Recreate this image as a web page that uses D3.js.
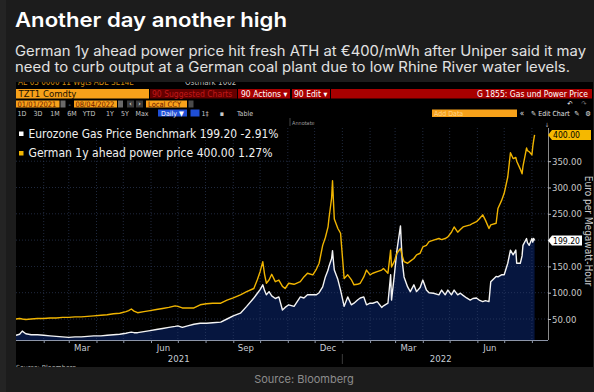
<!DOCTYPE html>
<html><head><meta charset="utf-8">
<script src="https://cdn.jsdelivr.net/npm/d3@7"></script>
<style>
html,body{margin:0;padding:0;background:#1c1c1c;}
svg{display:block;}
</style></head>
<body>
<svg id="chart" width="594" height="392"></svg>
<script>
// ---------- DATA ----------
const title = "Another day another high";
const subtitle = ["German 1y ahead power price hit fresh ATH at €400/mWh after Uniper said it may",
                  "need to curb output at a German coal plant due to low Rhine River water levels."];
const source = "Source: Bloomberg";
const seriesNames = ["Eurozone Gas Price Benchmark", "German 1y ahead power price"];
const seriesLast = ["199.20", "400.00"];
const seriesChange = ["-2.91%", "1.27%"];
const yTicks = [50, 100, 150, 200, 250, 300, 350];
const monthLabels = ["Mar", "Jun", "Sep", "Dec", "Mar", "Jun"];
const monthLabelDates = ["2021-03-16", "2021-06-15", "2021-09-15", "2021-12-16", "2022-03-16", "2022-06-15"];
const yearLabels = ["2021", "2022"];
const yearLabelDates = ["2021-07-02", "2022-04-21"];
const dates = [
"2021-01-01","2021-01-05","2021-01-08","2021-01-12","2021-01-18","2021-01-25","2021-02-01","2021-02-08","2021-02-15","2021-02-22",
"2021-03-01","2021-03-08","2021-03-15","2021-03-22","2021-03-29","2021-04-06","2021-04-13","2021-04-20","2021-04-27","2021-05-04",
"2021-05-07","2021-05-10","2021-05-13","2021-05-17","2021-05-24","2021-05-31","2021-06-07","2021-06-14","2021-06-21","2021-06-28",
"2021-07-01","2021-07-06","2021-07-12","2021-07-19","2021-07-26","2021-08-02","2021-08-09","2021-08-18","2021-08-25","2021-09-01",
"2021-09-09","2021-09-16","2021-09-24","2021-09-28","2021-10-01","2021-10-04","2021-10-06","2021-10-08","2021-10-11","2021-10-14",
"2021-10-18","2021-10-22","2021-10-26","2021-10-29","2021-11-02","2021-11-08","2021-11-15","2021-11-19","2021-11-23","2021-11-29",
"2021-12-03","2021-12-06","2021-12-10","2021-12-13","2021-12-16","2021-12-17","2021-12-20","2021-12-21","2021-12-22","2021-12-23",
"2021-12-27","2021-12-30","2022-01-03","2022-01-07","2022-01-11","2022-01-14","2022-01-18","2022-01-21","2022-01-25","2022-01-28",
"2022-02-01","2022-02-04","2022-02-09","2022-02-14","2022-02-16","2022-02-21","2022-02-24","2022-02-25","2022-02-28","2022-03-03",
"2022-03-07","2022-03-09","2022-03-11","2022-03-15","2022-03-18","2022-03-22","2022-03-25","2022-03-29","2022-04-01","2022-04-05",
"2022-04-08","2022-04-13","2022-04-19","2022-04-22","2022-04-26","2022-04-29","2022-05-03","2022-05-06","2022-05-10","2022-05-13",
"2022-05-16","2022-05-20","2022-05-24","2022-05-27","2022-05-31","2022-06-03","2022-06-07","2022-06-10","2022-06-14","2022-06-16",
"2022-06-22","2022-06-24","2022-06-28","2022-07-01","2022-07-05","2022-07-08","2022-07-11","2022-07-14","2022-07-15","2022-07-19",
"2022-07-21","2022-07-22","2022-07-26","2022-07-27","2022-07-29","2022-08-01","2022-08-02","2022-08-03","2022-08-04"];
const power = [
50,51,50,49,50,51,51,52,52,53,
53,54,54,55,56,57,58,60,61,64,
66,69,65,62,64,66,68,70,72,75,
74,71,71,71,77,79,80,80,86,90,
96,102,108,125,140,159,135,118,124,135,
121,124,112,108,118,116,121,130,137,134,
145,156,190,205,225,241,280,313,275,240,
222,213,127,134,125,115,116,118,130,143,
134,137,140,143,146,137,181,149,159,175,
184,170,159,156,160,165,172,175,187,190,
197,200,203,201,203,206,215,225,215,220,
225,227,229,232,235,240,248,238,222,229,
232,260,275,289,320,366,355,357,350,335,
326,340,375,370,368,362,378,390,400];
const gas = [
19,21,27,22,20,20,19,18,17,16,
15,16,16,17,18,18,19,20,21,23,
24,25,24,24,26,28,30,32,34,36,
37,34,37,40,42,42,43,44,50,56,
61,74,90,99,106,115,104,96,102,94,
89,92,67,72,77,74,92,90,96,96,
96,100,111,130,143,150,165,180,160,143,
125,105,74,92,77,80,86,90,92,77,
80,80,83,72,75,80,134,86,131,180,
227,159,130,111,102,115,102,110,124,105,
100,99,96,105,96,105,96,105,96,99,
95,90,86,89,90,86,83,85,83,121,
131,130,134,134,156,181,172,181,156,156,
170,190,203,195,190,203,196,203,199.2];

// ---------- SETUP ----------
const svg = d3.select("#chart");
const parse = d3.timeParse("%Y-%m-%d");
const data = dates.map((d, i) => ({date: parse(d), power: power[i], gas: gas[i]}));

const W = 594, H = 392;
const plotL = 16, plotR = 548, axisY = 340;
const x = d3.scaleTime().domain([parse("2021-01-01"), parse("2022-08-19")]).range([plotL, plotR]);
const y = d3.scaleLinear().domain([0, 400]).range([345.3, 134.9]);

const bbFont = "'Liberation Sans Narrow','DejaVu Sans Condensed','Arial Narrow',sans-serif";
const headFont = "Inter,'Open Sans',sans-serif";

svg.append("rect").attr("width", W).attr("height", H).attr("fill", "#1c1c1c");
svg.append("rect").attr("width", 6).attr("height", H).attr("fill", "#242424");

svg.append("text").attr("x", 15).attr("y", 26.5).text(title)
  .attr("font-family", headFont).attr("font-weight", 600).attr("font-size", 20)
  .attr("fill", "#ffffff").attr("textLength", 272).attr("lengthAdjust", "spacingAndGlyphs");
subtitle.forEach((s, i) => {
  svg.append("text").attr("x", 15).attr("y", 56 + i * 16).text(s)
    .attr("font-family", headFont).attr("font-size", 14).attr("fill", "#e2e2e2")
    .attr("textLength", i === 0 ? 571 : 555).attr("lengthAdjust", "spacingAndGlyphs");
});

svg.append("text").attr("x", 304).attr("y", 382.5).attr("text-anchor", "middle").text(source)
  .attr("font-family", headFont).attr("font-size", 11).attr("fill", "#8c8c8c");

// ---------- SCREENSHOT PANEL ----------
const defs = svg.append("defs");
defs.append("clipPath").attr("id", "panelClip").append("rect")
  .attr("x", 16).attr("y", 82).attr("width", 577).attr("height", 285);
const panel = svg.append("g").attr("clip-path", "url(#panelClip)");
panel.append("rect").attr("x", 16).attr("y", 82).attr("width", 577).attr("height", 285).attr("fill", "#000");

panel.append("text").attr("x", 18).attr("y", 84.5).text("AE 03 0000  11 Wgts   ADE  SE14E")
  .attr("font-family", bbFont).attr("font-size", 8).attr("fill", "#d08a10");
panel.append("text").attr("x", 185).attr("y", 84.5).text("Ostmark  1002")
  .attr("font-family", bbFont).attr("font-size", 8).attr("fill", "#bbbbbb");

function box(x0, y0, w, h, fill) {
  panel.append("rect").attr("x", x0).attr("y", y0).attr("width", w).attr("height", h).attr("fill", fill);
}
function txt(x0, y0, s, size, fill, anchor, weight) {
  return panel.append("text").attr("x", x0).attr("y", y0).text(s)
    .attr("font-family", bbFont).attr("font-size", size).attr("fill", fill)
    .attr("text-anchor", anchor || "start").attr("font-weight", weight || 400);
}
// toolbar row 1
box(16, 89, 133, 9.5, "#f7a11a");
txt(18.5, 97, "TZT1 Comdty", 9.5, "#1a1000");
box(150, 89, 87, 9.5, "#650000");
txt(152, 96.8, "90 Suggested Charts", 8.5, "#c01818");
box(238, 89, 52, 9.5, "#a80000");
txt(241, 96.8, "90 Actions ▾", 8.5, "#ffffff");
box(292, 89, 38, 9.5, "#a80000");
txt(294, 96.8, "90 Edit ▾", 8.5, "#ffffff");
box(331, 89, 261, 9.5, "#a80000");
txt(588, 96.8, "G 1855: Gas und Power Price", 8.5, "#ffffff", "end");

// toolbar row 2
box(16, 100.5, 43.5, 7, "#f7a11a");
txt(17.5, 106.6, "01/01/2021", 7.5, "#6a1800");
box(60.5, 100.5, 5, 7, "#6a6a6a");
txt(68.5, 106.6, "-", 7, "#aaaaaa");
box(74, 100.5, 43, 7, "#f7a11a");
txt(75.5, 106.6, "08/04/2022", 7.5, "#6a1800");
box(118, 100.5, 5, 7, "#6a6a6a");
box(127, 100.5, 7, 7, "#3a3a3a");
txt(130.5, 106.4, "‹", 7, "#ffffff", "middle");
box(136, 100.5, 7, 7, "#3a3a3a");
txt(139.5, 106.4, "›", 7, "#ffffff", "middle");
box(146, 100.5, 41, 7, "#f7a11a");
txt(148, 106.6, "Local CCY", 7.5, "#6a1800");
box(188.5, 100.5, 5, 7, "#4a4a4a");
txt(570, 106, "↶", 7, "#ffffff", "middle");
txt(584, 106, "↷", 7, "#777777", "middle");

// toolbar row 3
const ranges = [["1D", 22], ["3D", 38], ["1M", 55], ["6M", 72], ["YTD", 89], ["1Y", 110], ["5Y", 125], ["Max", 142]];
ranges.forEach(r => txt(r[1], 115.8, r[0], 7, "#c8c8c8", "middle"));
box(158, 109.5, 29, 7, "#1f4fd6");
txt(172.5, 115.8, "Daily ▼", 7, "#ffffff", "middle");
box(190.5, 109.5, 9, 7, "#1f4fd6");
txt(205, 115.8, "1‡", 7, "#c8c8c8", "middle");
txt(222, 115.8, "▪", 7, "#c8c8c8", "middle");
txt(245, 115.8, "Table", 7, "#c8c8c8", "middle");
box(432, 109.5, 85, 7.5, "#f7a11a");
txt(434, 116, "Add Data", 7, "#ffd48a");
txt(522, 116, "«", 8, "#e0e0e0", "middle");
txt(531, 116, "✎ Edit Chart", 7, "#e0e0e0");
txt(577, 116, "✎", 7, "#e0e0e0", "middle");
txt(588, 116, "⚙", 7, "#e0e0e0", "middle");

// row 4
panel.append("line").attr("x1", 290).attr("x2", 290).attr("y1", 118).attr("y2", 126).attr("stroke", "#444");
txt(292, 125, "Annotate", 5.5, "#9a9a9a");
txt(547, 127, "↓", 6, "#bbbbbb", "middle");

// ---------- CHART ----------
const area = d3.area().x(d => x(d.date)).y0(axisY).y1(d => y(d.gas));
panel.append("path").datum(data).attr("d", area).attr("fill", "#06163f");

const gridG = panel.append("g");
yTicks.forEach(v => {
  gridG.append("line").attr("x1", plotL).attr("x2", plotR).attr("y1", y(v)).attr("y2", y(v))
    .attr("stroke", "#3a4a70").attr("stroke-width", 0.8).attr("stroke-dasharray", "1,2").attr("opacity", 0.7);
});
const months = d3.timeMonth.range(parse("2021-02-01"), parse("2022-08-19"));
months.forEach(m => {
  gridG.append("line").attr("x1", x(m)).attr("x2", x(m)).attr("y1", 128).attr("y2", axisY)
    .attr("stroke", "#3a4a70").attr("stroke-width", 0.8).attr("stroke-dasharray", "1,2").attr("opacity", 0.7);
});

const lineGas = d3.line().x(d => x(d.date)).y(d => y(d.gas));
const linePow = d3.line().x(d => x(d.date)).y(d => y(d.power));
panel.append("path").datum(data).attr("d", lineGas).attr("fill", "none")
  .attr("stroke", "#f4f4f4").attr("stroke-width", 1.4).attr("stroke-linejoin", "round");
panel.append("path").datum(data).attr("d", linePow).attr("fill", "none")
  .attr("stroke", "#f0b400").attr("stroke-width", 1.4).attr("stroke-linejoin", "round");

// x axis
const xAxis = d3.axisBottom(x).tickValues(months).tickSize(3).tickFormat("");
const xg = panel.append("g").attr("transform", `translate(0,${axisY})`).call(xAxis);
xg.select(".domain").attr("stroke", "#8c95a8").attr("d", `M${plotL},0.5H${plotR}`);
xg.selectAll(".tick line").attr("stroke", "#8c95a8");
monthLabels.forEach((m, i) => {
  txt(x(parse(monthLabelDates[i])), 351, m, 9.5, "#c8ccd4", "middle");
});
yearLabels.forEach((yl, i) => {
  txt(x(parse(yearLabelDates[i])), 362, yl, 9.5, "#c8ccd4", "middle");
});
panel.append("line").attr("x1", x(parse("2022-01-01"))).attr("x2", x(parse("2022-01-01")))
  .attr("y1", 354).attr("y2", 364).attr("stroke", "#3a3a3a");

// y axis
const yAxis = d3.axisRight(y).tickValues(yTicks).tickSize(3).tickFormat(d3.format(".2f"));
const yg = panel.append("g").attr("transform", `translate(${plotR},0)`).call(yAxis);
yg.select(".domain").attr("stroke", "#8a8a8a").attr("d", "M0.5,128V340");
yg.selectAll(".tick line").attr("stroke", "#bbbbbb");
yg.selectAll(".tick text").attr("x", 4).attr("font-family", bbFont).attr("font-size", 9.5)
  .attr("fill", "#c8c8c8");

panel.append("text").attr("transform", "translate(584.5,231) rotate(90)").attr("text-anchor", "middle")
  .text("Euro per Megawatt-Hour").attr("font-family", bbFont).attr("font-size", 10).attr("fill", "#c8c8c8");

// last-value tags
const lastVals = [gas[gas.length - 1], power[power.length - 1]];
const tagFill = ["#ffffff", "#f5b800"];
const tagEnd = [582, 591];
[1, 0].forEach(i => {
  const yy = y(lastVals[i]);
  panel.append("path")
    .attr("d", `M${plotR},${yy}L${plotR + 4},${yy - 5}H${tagEnd[i]}V${yy + 5}H${plotR + 4}Z`)
    .attr("fill", tagFill[i]);
  txt(plotR + 5, yy + 3.5, seriesLast[i], 9.5, "#000000")
    .attr("textLength", 27).attr("lengthAdjust", "spacingAndGlyphs");
});

// legend
const legendColors = ["#ffffff", "#f0b400"];
const legendY = [137.5, 157];
const legendLen = [250, 244];
seriesNames.forEach((n, i) => {
  panel.append("rect").attr("x", 19).attr("y", legendY[i] - 6).attr("width", 4.5).attr("height", 4.5).attr("fill", legendColors[i]);
  const s = i === 0 ? `${n} ${seriesLast[i]} ${seriesChange[i]}` : `${n}  ${seriesLast[i]} ${seriesChange[i]}`;
  txt(28.5, legendY[i], s, 11.5, "#f0f0f0").attr("textLength", legendLen[i]).attr("lengthAdjust", "spacingAndGlyphs");
});

txt(16, 369.5, "Source: Bloomberg", 7, "#bbbbbb");
</script>
</body></html>
